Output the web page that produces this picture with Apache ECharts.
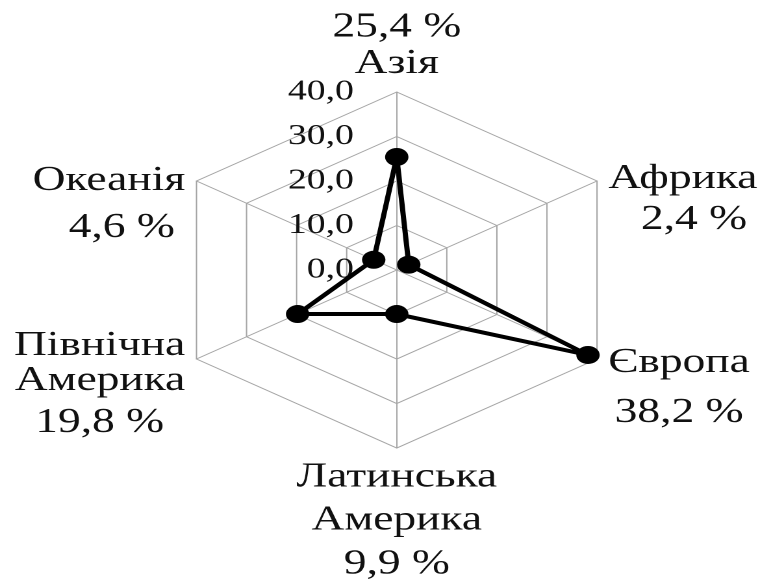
<!DOCTYPE html>
<html>
<head>
<meta charset="utf-8">
<script src="https://cdn.jsdelivr.net/npm/echarts@6/dist/echarts.min.js"></script>
<style>
html,body{margin:0;padding:0;background:#fff;overflow:hidden;}
#wrap{width:760px;height:584px;overflow:hidden;}
#chart{width:585px;height:584px;transform:scaleX(1.2991);transform-origin:0 0;}
</style>
</head>
<body>
<div id="wrap"><div id="chart"></div></div>
<script>
// Data (counter-clockwise from top, as ECharts radar places indicators)
const regions = ['Азія', 'Океанія', 'Північна Америка', 'Латинська Америка', 'Європа', 'Африка'];
const shares = [25.4, 4.6, 19.8, 9.9, 38.2, 2.4];
const axisMax = 40;
const axisStep = 10;

const fmt = v => v.toFixed(1).replace('.', ',');
const FONT = "'Liberation Serif', 'Times New Roman', serif";

// per-label text layout (line heights / spacer) – styling only
const labelLayout = [
  {lines: ['v', 'n'], lh: [37, 36]},
  {spacer: 57, lines: ['n', 'v'], lh: [47, 47], valAlign: 'right', valPad: 8},
  {spacer: 48, lines: ['n', 'n', 'v'], lh: [35, 35, 49], valAlign: 'center'},
  {lines: ['n', 'n', 'v'], lh: [39, 47, 41]},
  {spacer: 48, lines: ['n', 'v'], lh: [50, 50], valAlign: 'center'},
  {spacer: 47, lines: ['n', 'v'], lh: [41, 41], valAlign: 'right', valPad: 8}
];

const rich = {};
function nameFormatter(name) {
  const i = regions.indexOf(name);
  const L = labelLayout[i];
  const parts = name.split(' ');
  const out = [];
  let key;
  if (L.spacer) {
    key = 's' + i;
    rich[key] = {fontFamily: FONT, fontSize: 4, lineHeight: L.spacer};
    out.push('{' + key + '| }');
  }
  let p = 0;
  L.lines.forEach((t, j) => {
    key = 'l' + i + '_' + j;
    const st = {fontFamily: FONT, fontSize: 35, color: '#111', lineHeight: L.lh[j]};
    if (t === 'v') {
      if (L.valAlign) st.align = L.valAlign;
      if (L.valPad) st.padding = [0, L.valPad, 0, 0];
      rich[key] = st;
      out.push('{' + key + '|' + fmt(shares[i]) + ' %}');
    } else {
      rich[key] = st;
      out.push('{' + key + '|' + parts[p++] + '}');
    }
  });
  return out.join('\n');
}
regions.forEach(r => nameFormatter(r));

const chart = echarts.init(document.getElementById('chart'), null, {renderer: 'canvas', devicePixelRatio: 2});
chart.setOption({
  animation: false,
  backgroundColor: '#fff',
  textStyle: {fontFamily: FONT},
  grid: {left: 305.4, top: 92, width: 1, height: 178, containLabel: false},
  xAxis: {type: 'value', show: false},
  yAxis: {
    type: 'value', min: 0, max: axisMax, interval: axisStep,
    axisLine: {show: false}, axisTick: {show: false}, splitLine: {show: false},
    axisLabel: {margin: 33, fontFamily: FONT, fontSize: 29, color: '#111', formatter: v => fmt(v)}
  },
  radar: {
    center: [305.4, 270],
    radius: 178,
    startAngle: 90,
    splitNumber: 4,
    shape: 'polygon',
    indicator: regions.map(r => ({name: r, min: 0, max: axisMax})),
    axisNameGap: 10,
    axisName: {fontFamily: FONT, fontSize: 35, color: '#111', formatter: nameFormatter, rich: rich},
    axisLine: {lineStyle: {color: '#a6a6a6', width: 1}},
    axisTick: {show: false},
    axisLabel: {show: false},
    splitLine: {lineStyle: {color: '#a6a6a6', width: 1}},
    splitArea: {show: false}
  },
  series: [{
    type: 'radar',
    z: 5,
    symbol: 'circle',
    symbolSize: 18,
    lineStyle: {color: '#000', width: 4},
    itemStyle: {color: '#000'},
    data: [{value: shares, name: 'Частка'}]
  }]
});
</script>
</body>
</html>
